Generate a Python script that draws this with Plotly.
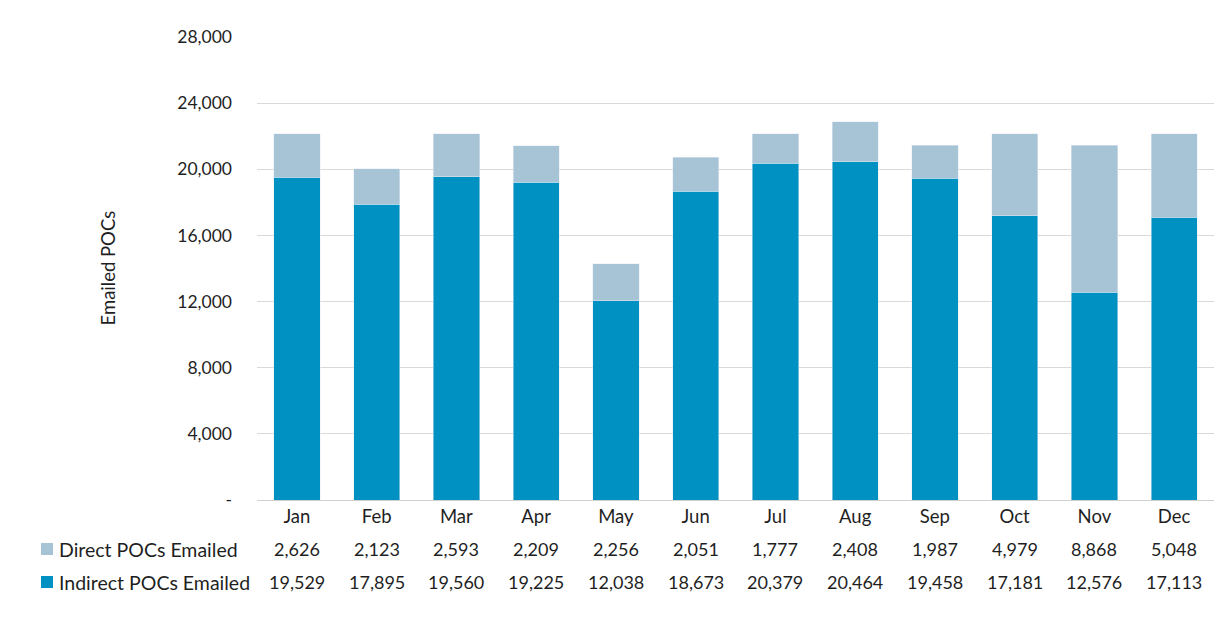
import plotly.graph_objects as go

months = ["Jan", "Feb", "Mar", "Apr", "May", "Jun", "Jul", "Aug", "Sep", "Oct", "Nov", "Dec"]
direct = [2626, 2123, 2593, 2209, 2256, 2051, 1777, 2408, 1987, 4979, 8868, 5048]
indirect = [19529, 17895, 19560, 19225, 12038, 18673, 20379, 20464, 19458, 17181, 12576, 17113]
series_names = ["Direct POCs Emailed", "Indirect POCs Emailed"]
ytick_vals = [0, 4000, 8000, 12000, 16000, 20000, 24000, 28000]
ytick_text = ["-", "4,000", "8,000", "12,000", "16,000", "20,000", "24,000", "28,000"]

c_direct = "#A6C4D5"
c_indirect = "#0091C3"
FONT = "Lato"
TXT = "#1f1f1f"

fig = go.Figure()
fig.add_trace(go.Bar(x=months, y=indirect, name=series_names[1], marker_color=c_indirect))
fig.add_trace(go.Bar(x=months, y=direct, name=series_names[0], marker_color=c_direct))

W, H = 1216, 627
L, R, T, B = 257, 2, 37, 127
pw, ph = W - L - R, H - T - B

def px_to_py(y):
    return -(y - (H - B)) / ph

def px_to_px(x):
    return (x - L) / pw

ann = []
shapes = []
rows = [(direct, 549, c_direct, series_names[0]), (indirect, 582, c_indirect, series_names[1])]
for vals, ypx, col, nm in rows:
    yp = px_to_py(ypx)
    for m, v in zip(months, vals):
        ann.append(dict(x=m, y=yp, xref="x", yref="paper", text=f"{v:,}", showarrow=False,
                        xanchor="center", yanchor="middle", font=dict(size=18, color=TXT, family=FONT)))
    ann.append(dict(x=px_to_px(57), y=yp, xref="paper", yref="paper", text=nm, showarrow=False,
                    xanchor="left", yanchor="middle", font=dict(size=19.5, color=TXT, family=FONT)))
    shapes.append(dict(type="rect", xref="paper", yref="paper",
                       x0=px_to_px(41), x1=px_to_px(53), y0=px_to_py(ypx - 6), y1=px_to_py(ypx + 6),
                       fillcolor=col, line=dict(width=0)))

fig.update_layout(
    width=W, height=H,
    margin=dict(l=L, r=R, t=T, b=B),
    barmode="stack", bargap=0.42,
    plot_bgcolor="white", paper_bgcolor="white",
    showlegend=False,
    font=dict(family=FONT, size=18, color=TXT),
    annotations=ann + [dict(x=px_to_px(107), y=0.5, xref="paper", yref="paper", text="Emailed POCs",
                            textangle=-90, showarrow=False, xanchor="center", yanchor="middle",
                            font=dict(size=18.5, color=TXT, family=FONT))],
    shapes=shapes,
    xaxis=dict(showline=True, linecolor="#D0D0D0", linewidth=1, ticks="", tickfont=dict(size=18.5, color=TXT)),
    yaxis=dict(range=[0, 28000], tickvals=ytick_vals, ticktext=ytick_text, showgrid=True,
               gridcolor="#D9D9D9", gridwidth=1, zeroline=False, ticks="", ticklabelstandoff=24,
               tickfont=dict(size=17.5, color=TXT)),
)
fig.write_html("out.html", config={"displayModeBar": False},
               post_script="document.body.style.margin='0';document.body.style.padding='0';")
